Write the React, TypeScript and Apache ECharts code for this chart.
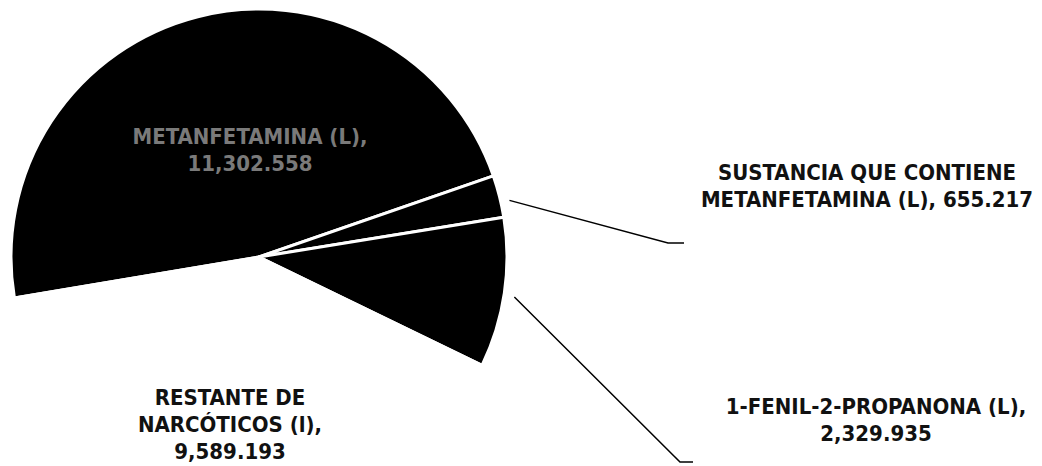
import React, { useEffect, useRef } from "react";
import * as echarts from "echarts";

const categories = [
  "METANFETAMINA (L)",
  "SUSTANCIA QUE CONTIENE METANFETAMINA (L)",
  "1-FENIL-2-PROPANONA (L)",
  "RESTANTE DE NARCÓTICOS (l)",
];
const values = [11302.558, 655.217, 2329.935, 9589.193];
const labelTexts = [
  "METANFETAMINA (L),\n{v}",
  "SUSTANCIA QUE CONTIENE\nMETANFETAMINA (L), {v}",
  "1-FENIL-2-PROPANONA (L),\n{v}",
  "RESTANTE DE\nNARCÓTICOS (l),\n{v}",
];
const sliceColors = ["#000000", "#000000", "#000000", "#ffffff"];

const fmt = (n: number) => {
  const [i, d] = n.toFixed(3).split(".");
  return i.replace(/\B(?=(\d{3})+(?!\d))/g, ",") + "." + d;
};

// label anchor positions (layout only)
const labelPos: [number, number][] = [
  [250, 150],
  [867, 186],
  [876, 420],
  [230, 424],
];
const lineBends: ([number, number][] | null)[] = [
  null,
  [[668, 243], [684, 243]],
  [[680, 462], [693, 462]],
  null,
];

export default function App() {
  const ref = useRef<HTMLDivElement>(null);
  useEffect(() => {
    if (!ref.current) return;
    const chart = echarts.init(ref.current, undefined, { renderer: "svg" });
    const font = "'DejaVu Sans Condensed', 'DejaVu Sans', sans-serif";
    chart.setOption({
      animation: false,
      backgroundColor: "#ffffff",
      series: [
        {
          type: "pie",
          center: [259, 257],
          radius: 248,
          startAngle: 189.5,
          clockwise: true,
          avoidLabelOverlap: false,
          itemStyle: { borderColor: "#ffffff", borderWidth: 3 },
          label: {
            fontFamily: font,
            fontWeight: "bold",
            fontSize: 22,
            lineHeight: 27,
            color: "#111111",
            align: "center",
          },
          labelLine: { lineStyle: { color: "#000000", width: 1.5 } },
          data: categories.map((name, i) => ({
            name,
            value: values[i],
            itemStyle: { color: sliceColors[i] },
            label: {
              position: i === 0 ? "inside" : "outside",
              formatter: labelTexts[i].replace("{v}", fmt(values[i])),
              color: i === 0 ? "#7a7a7a" : "#111111",
            },
            labelLine: { show: lineBends[i] !== null },
          })),
          labelLayout: (params: any) => {
            const i = params.dataIndex;
            const [x, y] = labelPos[i];
            const res: any = { x, y, align: "center", verticalAlign: "middle" };
            const bend = lineBends[i];
            if (bend && params.labelLinePoints) {
              const p0 = params.labelLinePoints[0];
              res.labelLinePoints = [
                [p0[0] + 10, p0[1] + 4],
                bend[0],
                bend[1],
              ];
            }
            return res;
          },
        },
      ],
    });
    return () => chart.dispose();
  }, []);
  return (
    <div
      ref={ref}
      style={{ position: "fixed", left: 0, top: 0, width: 1042, height: 466 }}
    />
  );
}
